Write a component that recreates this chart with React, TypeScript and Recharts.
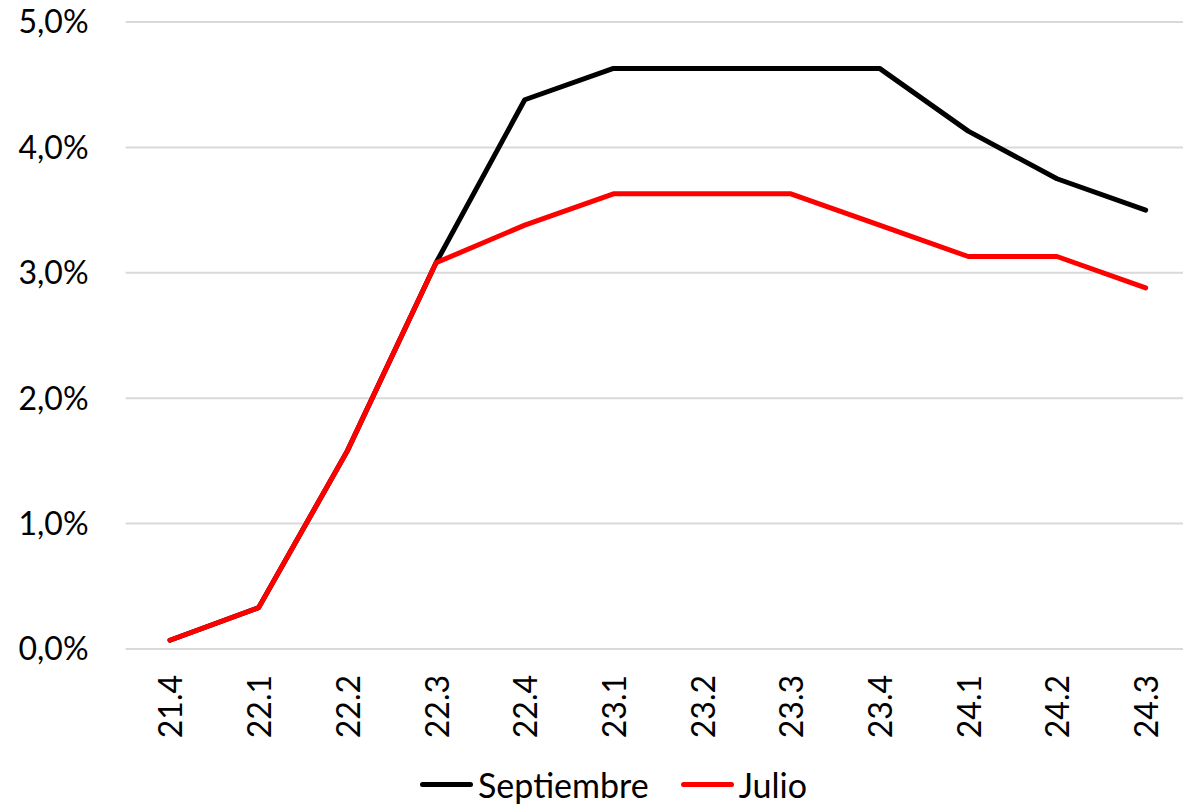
import { LineChart, Line, XAxis, YAxis, CartesianGrid, Legend } from 'recharts';

// trimestres (año.trimestre)
const quarters = ['21.4', '22.1', '22.2', '22.3', '22.4', '23.1', '23.2', '23.3', '23.4', '24.1', '24.2', '24.3'];
// valores en %
const septiembre = [0.07, 0.33, 1.58, 3.08, 4.38, 4.63, 4.63, 4.63, 4.63, 4.13, 3.75, 3.5];
const julio = [0.07, 0.33, 1.58, 3.08, 3.38, 3.63, 3.63, 3.63, 3.38, 3.13, 3.13, 2.88];
const yTicks = [0, 1, 2, 3, 4, 5];
const seriesOrder = ['septiembre', 'julio'];

const data = quarters.map((q, i) => ({ q, septiembre: septiembre[i], julio: julio[i] }));

const FONT = 'Lato, "Open Sans", sans-serif';

const fmtPct = (v: number) => `${v.toFixed(1).replace('.', ',')}%`;

function QuarterTick({ x, y, payload }: any) {
  return (
    <g transform={`translate(${x},${y})`}>
      <text
        transform="rotate(-90)"
        x={-26}
        y={0}
        textAnchor="end"
        dominantBaseline="central"
        fontFamily={FONT}
        fontSize={32}
        fill="#000"
      >
        {payload.value}
      </text>
    </g>
  );
}

function LegendContent({ payload }: any) {
  const items = [...(payload || [])].sort(
    (a: any, b: any) => seriesOrder.indexOf(a.dataKey) - seriesOrder.indexOf(b.dataKey)
  );
  return (
    <div style={{ display: 'flex', alignItems: 'center', fontFamily: FONT, fontSize: 34, color: '#000' }}>
      {items.map((p: any) => (
        <div key={p.value} style={{ display: 'flex', alignItems: 'center', marginRight: 32 }}>
          <span
            style={{ display: 'inline-block', width: 53, height: 5, borderRadius: 3, background: p.color, marginRight: 5 }}
          />
          <span>{p.value}</span>
        </div>
      ))}
    </div>
  );
}

export default function App() {
  return (
    <div style={{ position: 'fixed', left: 0, top: 0, width: 1183, height: 804, overflow: 'hidden', background: '#fff' }}>
      <LineChart width={1200} height={804} data={data} margin={{ top: 22, right: 10, left: 0, bottom: 0 }}>
        <CartesianGrid vertical={false} stroke="#d9d9d9" strokeWidth={2} />
        <XAxis
          dataKey="q"
          axisLine={false}
          tickLine={false}
          tickSize={0}
          tickMargin={0}
          height={115}
          interval={0}
          padding={{ left: 44.35, right: 44.35 }}
          tick={<QuarterTick />}
        />
        <YAxis
          width={125.6}
          domain={[0, 5]}
          ticks={yTicks}
          tickFormatter={fmtPct}
          axisLine={false}
          tickLine={false}
          tickSize={0}
          tickMargin={37}
          tick={{ fontFamily: FONT, fontSize: 32, fill: '#000' }}
        />
        <Legend
          verticalAlign="bottom"
          height={40}
          content={<LegendContent />}
          wrapperStyle={{ left: 420, width: 'auto' }}
        />
        <Line
          dataKey="septiembre"
          name="Septiembre"
          stroke="#000"
          strokeWidth={5}
          strokeLinecap="round"
          strokeLinejoin="round"
          dot={false}
          isAnimationActive={false}
        />
        <Line
          dataKey="julio"
          name="Julio"
          stroke="#ff0000"
          strokeWidth={5}
          strokeLinecap="round"
          strokeLinejoin="round"
          dot={false}
          isAnimationActive={false}
        />
      </LineChart>
    </div>
  );
}
